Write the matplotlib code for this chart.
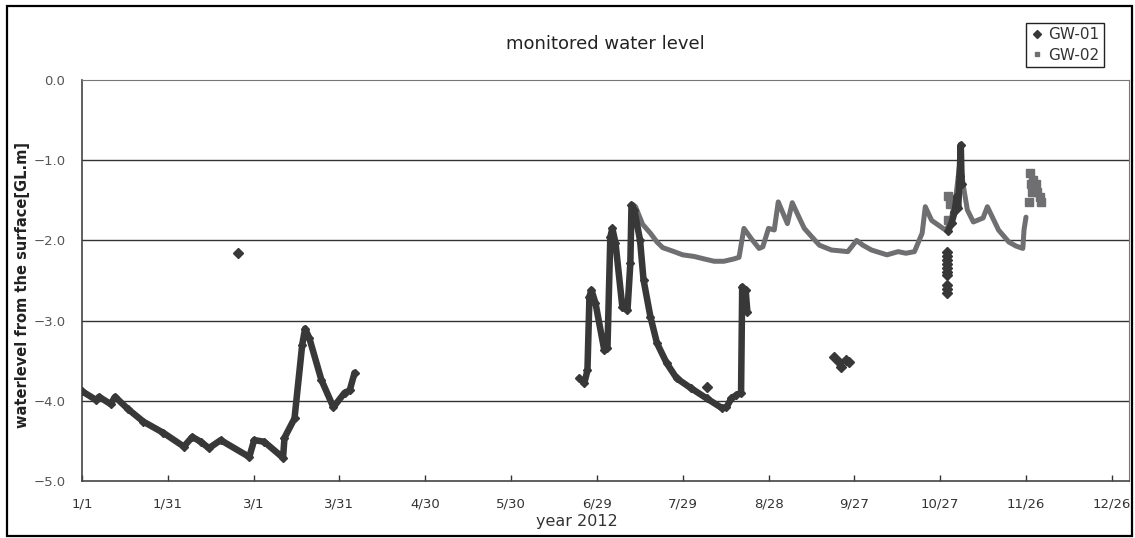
import numpy as np
import pandas as pd
import matplotlib
matplotlib.use("Agg")
import matplotlib.pyplot as plt
from matplotlib.lines import Line2D
from matplotlib.patches import Rectangle

# days counted from 2012/1/1
gw01_day_jan = [0, 5, 6, 10, 11.6, 16, 21.5, 28.5, 35.6, 38.6, 41.5, 44.4, 48.5, 58.5, 60.2,
                63.7, 70.3, 70.8, 74.3, 77.0, 78.0, 79.5, 83.7, 87.9, 91.8, 93.6, 95.3]
gw01_lvl_jan = [-3.88, -3.99, -3.95, -4.04, -3.95, -4.10, -4.26, -4.40, -4.57, -4.45, -4.51, -4.59,
                -4.49, -4.70, -4.49, -4.51, -4.71, -4.46, -4.22, -3.30, -3.10, -3.22, -3.74, -4.08,
                -3.90, -3.87, -3.65]

gw01_day_jun = [173.9, 175.6, 176.7, 177.4, 178.1, 179.5, 182.6, 183.7, 184.7, 185.4, 186.5, 188.9,
                190.7, 191.7, 192.1, 193.1, 195.1, 196.3, 198.7, 201.0, 204.4, 207.9, 212.8, 218.4,
                223.7, 225.3, 227.0, 228.7, 230.4, 230.8, 232.0, 232.6]
gw01_lvl_jun = [-3.72, -3.78, -3.62, -2.70, -2.62, -2.78, -3.37, -3.34, -1.96, -1.85, -2.03, -2.83,
                -2.87, -2.28, -1.56, -1.62, -2.00, -2.49, -2.95, -3.28, -3.53, -3.72, -3.84, -3.97,
                -4.09, -4.08, -3.97, -3.93, -3.90, -2.58, -2.62, -2.89]

gw01_day_oct = [302.8, 304.0, 305.0, 305.8, 306.3, 306.8, 307.2, 307.5]
gw01_lvl_oct = [-1.88, -1.78, -1.65, -1.45, -1.60, -1.20, -0.81, -1.30]

# scattered single readings
gw01_day_pts = [54.5, 218.4, 263.0, 264.8, 265.5, 267.2, 268.0,
                302.5, 302.5, 302.5, 302.5, 302.5, 302.5, 302.5, 302.5, 302.5, 302.5]
gw01_lvl_pts = [-2.16, -3.83, -3.45, -3.52, -3.58, -3.49, -3.52,
                -2.14, -2.19, -2.24, -2.29, -2.34, -2.39, -2.43, -2.55, -2.60, -2.66]

gw02_day = [192.5, 193.5, 196.0, 198.7, 201.0, 203.0, 207.0, 210.0, 214.0, 217.4, 221.0, 224.4,
            228.0, 229.7, 231.4, 234.0, 236.7, 238.0, 240.0, 242.0, 243.4, 246.6, 248.3, 250.5,
            252.5, 255.0, 257.8, 262.0, 265.0, 267.7, 270.8, 273.0, 276.0, 281.4, 285.3, 288.0,
            291.0, 293.7, 294.8, 297.0, 301.8, 303.5, 305.5, 307.0, 308.0, 309.5, 311.6, 315.0,
            316.5, 320.4, 324.0, 326.5, 328.9, 329.3, 330.0]
gw02_lvl = [-1.55, -1.58, -1.80, -1.91, -2.02, -2.09, -2.14, -2.18, -2.20, -2.23, -2.26, -2.26,
            -2.23, -2.21, -1.85, -1.98, -2.10, -2.08, -1.85, -1.87, -1.52, -1.79, -1.53, -1.70,
            -1.85, -1.95, -2.06, -2.12, -2.13, -2.14, -2.00, -2.06, -2.12, -2.18, -2.14, -2.16,
            -2.14, -1.91, -1.58, -1.75, -1.87, -1.80, -1.45, -1.00, -1.30, -1.62, -1.77, -1.72,
            -1.58, -1.87, -2.02, -2.07, -2.10, -1.87, -1.71]

gw02_day_pts = [302.8, 303.4, 302.8, 331.0, 331.5, 331.8, 332.0, 332.5, 333.5, 334.0, 335.0, 335.3]
gw02_lvl_pts = [-1.45, -1.55, -1.75, -1.52, -1.16, -1.30, -1.40, -1.25, -1.30, -1.40, -1.46, -1.52]

tick_labels = ["1/1", "1/31", "3/1", "3/31", "4/30", "5/30", "6/29", "7/29", "8/28",
               "9/27", "10/27", "11/26", "12/26"]
y_ticks = [0.0, -1.0, -2.0, -3.0, -4.0, -5.0]

DARK = "#383838"
GRAY = "#6f6f71"

fig = plt.figure(figsize=(11.35, 5.38), dpi=100)
ax = fig.add_axes([0.0722, 0.1059, 0.9225, 0.7454])

line_kw = dict(solid_joinstyle="round", solid_capstyle="round")
for d, v in [(gw01_day_jan, gw01_lvl_jan), (gw01_day_jun, gw01_lvl_jun), (gw01_day_oct, gw01_lvl_oct)]:
    ax.plot(d, v, "-", color=DARK, lw=4.7, marker="D", ms=4, zorder=3, **line_kw)
ax.plot(gw01_day_pts, gw01_lvl_pts, "D", color=DARK, ms=5, ls="none", zorder=3)

ax.plot(gw02_day, gw02_lvl, "-", color=GRAY, lw=3.6, zorder=2, **line_kw)
ax.plot(gw02_day_pts, gw02_lvl_pts, "s", color=GRAY, ms=5.5, ls="none", zorder=2)

tick_days = [(pd.Timestamp("2012/" + t) - pd.Timestamp("2012-01-01")).days for t in tick_labels]
ax.set_xlim(0, 366)
ax.set_ylim(-5, 0)
ax.set_xticks(tick_days)
ax.set_xticklabels(tick_labels)
ax.set_yticks(y_ticks)
ax.set_yticklabels(["%.1f" % t if t == 0 else "\u2212%.1f" % abs(t) for t in y_ticks])
ax.tick_params(axis="x", direction="in", length=4, width=1, pad=12, labelsize=9.5,
               colors="#333333", labelcolor="#333333")
ax.tick_params(axis="y", length=0, pad=12, labelsize=9.5, labelcolor="#555555")
for gy in [-1, -2, -3, -4]:
    ax.axhline(gy, color="#333333", lw=1, zorder=1)
for s in ["top", "right"]:
    ax.spines[s].set_color("#777777")
for s in ["left", "bottom"]:
    ax.spines[s].set_color("#444444")
    ax.spines[s].set_linewidth(1.2)

ax.set_title("monitored water level", fontsize=13, color="#222222", pad=22)
ax.set_xlabel("year 2012", fontsize=11.5, color="#333333", va="center")
ax.xaxis.set_label_coords(0.473, -0.102)
ax.set_ylabel("waterlevel from the surface[GL.m]", fontsize=10.5, fontweight="bold",
              color="#222222", va="center")
ax.yaxis.set_label_coords(-0.057, 0.49)

handles = [Line2D([], [], ls="none", marker="D", ms=4, color=DARK),
           Line2D([], [], ls="none", marker="s", ms=3.5, color=GRAY)]
leg = fig.legend(handles, ["GW-01", "GW-02"], loc="upper right",
                 bbox_to_anchor=(0.979, 0.972), fancybox=False, framealpha=1,
                 edgecolor="#222222", fontsize=11, handlelength=0.8, handletextpad=0.3,
                 borderpad=0.3, labelspacing=0.35)
leg.get_frame().set_linewidth(1)
for t in leg.get_texts():
    t.set_color("#333333")

fig.patches.append(Rectangle((0.0062, 0.0037), 0.9912, 0.9851, transform=fig.transFigure,
                             fill=False, lw=1.6, ec="black"))

fig.savefig("out.png", dpi=100)
